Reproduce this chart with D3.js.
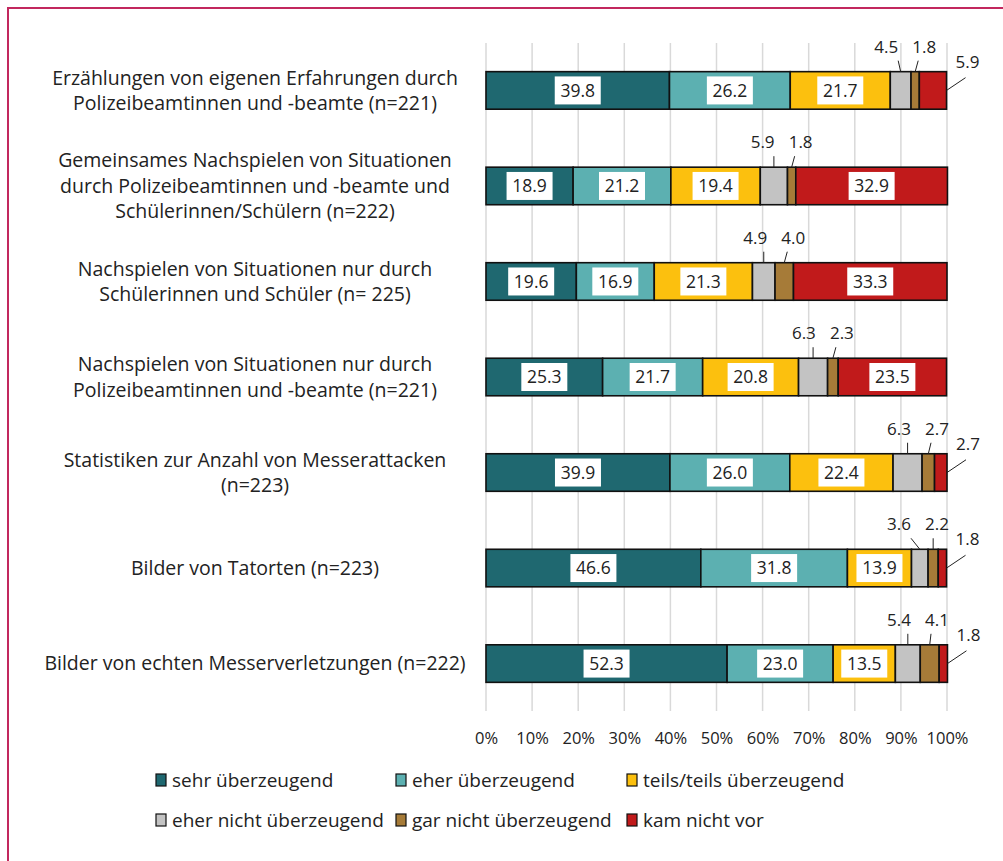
<!DOCTYPE html>
<html>
<head>
<meta charset="utf-8">
<script src="https://cdn.jsdelivr.net/npm/d3@7"></script>
<style>
  body { margin: 0; background: #fff; }
  svg { display: block; }
</style>
</head>
<body>
<div id="chart"></div>
<script>
// data
const categories = [
  ["Erzählungen von eigenen Erfahrungen durch", "Polizeibeamtinnen und -beamte (n=221)"],
  ["Gemeinsames Nachspielen von Situationen", "durch Polizeibeamtinnen und -beamte und", "Schülerinnen/Schülern (n=222)"],
  ["Nachspielen von Situationen nur durch", "Schülerinnen und Schüler (n= 225)"],
  ["Nachspielen von Situationen nur durch", "Polizeibeamtinnen und -beamte (n=221)"],
  ["Statistiken zur Anzahl von Messerattacken", "(n=223)"],
  ["Bilder von Tatorten (n=223)"],
  ["Bilder von echten Messerverletzungen (n=222)"]
];
const seriesNames = ["sehr überzeugend", "eher überzeugend", "teils/teils überzeugend",
                     "eher nicht überzeugend", "gar nicht überzeugend", "kam nicht vor"];
const sehr      = [39.8, 18.9, 19.6, 25.3, 39.9, 46.6, 52.3];
const eher      = [26.2, 21.2, 16.9, 21.7, 26.0, 31.8, 23.0];
const teils     = [21.7, 19.4, 21.3, 20.8, 22.4, 13.9, 13.5];
const eherNicht = [4.5, 5.9, 4.9, 6.3, 6.3, 3.6, 5.4];
const garNicht  = [1.8, 1.8, 4.0, 2.3, 2.7, 2.2, 4.1];
const kamNicht  = [5.9, 32.9, 33.3, 23.5, 2.7, 1.8, 1.8];
const xTicks = [0, 10, 20, 30, 40, 50, 60, 70, 80, 90, 100];

const colors = ["#1f6870", "#5cb0b1", "#fcc00e", "#c3c3c3", "#a67b38", "#c11a1b"];
const series = [sehr, eher, teils, eherNicht, garNicht, kamNicht];

const W = 1003, H = 861;
const font = "'Open Sans', Lato, sans-serif";

const svg = d3.select("#chart").append("svg")
  .attr("width", W).attr("height", H);

// frame (only left/top edges fall inside the picture)
svg.append("rect")
  .attr("x", 8).attr("y", 8)
  .attr("width", W + 20).attr("height", H + 20)
  .attr("fill", "none")
  .attr("stroke", "#c2285e")
  .attr("stroke-width", 2);

const x = d3.scaleLinear().domain([0, 100]).range([486, 947]);
const y = d3.scaleBand()
  .domain(d3.range(categories.length))
  .range([43, 711])
  .paddingInner(0.607)
  .paddingOuter(0.3);

// gridlines
svg.append("g").selectAll("line")
  .data(xTicks)
  .join("line")
  .attr("x1", d => x(d)).attr("x2", d => x(d))
  .attr("y1", 43).attr("y2", 711)
  .attr("stroke", "#d9d9d9")
  .attr("stroke-width", 1.5);

// x axis
const xAxis = d3.axisBottom(x)
  .tickValues(xTicks)
  .tickSize(0)
  .tickPadding(21)
  .tickFormat(d => d + "%");
const gx = svg.append("g")
  .attr("transform", "translate(0,711)")
  .call(xAxis);
gx.select(".domain").remove();
gx.selectAll("text")
  .attr("font-family", font)
  .attr("font-size", 16.5)
  .attr("fill", "#222");

// category labels
const catG = svg.append("g");
categories.forEach((lines, i) => {
  const cy = y(i) + y.bandwidth() / 2;
  const lh = 25.5;
  const t = catG.append("text")
    .attr("x", 255)
    .attr("text-anchor", "middle")
    .attr("font-family", font)
    .attr("font-size", 19.5)
    .attr("fill", "#222");
  lines.forEach((ln, j) => {
    t.append("tspan")
      .attr("x", 255)
      .attr("y", cy + (j - (lines.length - 1) / 2) * lh)
      .attr("dy", "0.35em")
      .text(ln);
  });
});

// stacked segments
const rows = categories.map((c, i) => {
  let acc = 0;
  return series.map((s, k) => {
    const seg = { row: i, k: k, v: s[i], x0: acc, x1: acc + s[i] };
    acc += s[i];
    return seg;
  });
});
const segs = rows.flat();

svg.append("g").selectAll("rect")
  .data(segs)
  .join("rect")
  .attr("x", d => x(d.x0))
  .attr("y", d => y(d.row))
  .attr("width", d => x(d.x1) - x(d.x0))
  .attr("height", y.bandwidth())
  .attr("fill", d => colors[d.k])
  .attr("stroke", "#111")
  .attr("stroke-width", 1.6);

// in-bar labels with white boxes
const inside = segs.filter(d => d.v >= 10);
const lab = svg.append("g").selectAll("g")
  .data(inside)
  .join("g")
  .attr("transform", d => `translate(${x((d.x0 + d.x1) / 2)},${y(d.row) + y.bandwidth() / 2})`);
lab.append("rect")
  .attr("x", -23).attr("y", -14)
  .attr("width", 46).attr("height", 28)
  .attr("fill", "#fff");
lab.append("text")
  .attr("text-anchor", "middle")
  .attr("dy", "0.36em")
  .attr("font-family", font)
  .attr("font-size", 17.5)
  .attr("fill", "#222")
  .text(d => d.v.toFixed(1));

// callout labels for small segments
const call = svg.append("g");
function callText(tx, ty, v) {
  call.append("text")
    .attr("x", tx).attr("y", ty)
    .attr("text-anchor", "middle")
    .attr("dy", "0.36em")
    .attr("font-family", font)
    .attr("font-size", 17)
    .attr("fill", "#222")
    .text(v.toFixed(1));
}
function callLine(x1, y1, x2, y2) {
  call.append("line")
    .attr("x1", x1).attr("y1", y1).attr("x2", x2).attr("y2", y2)
    .attr("stroke", "#222").attr("stroke-width", 1);
}
rows.forEach(r => {
  const top = y(r[0].row);
  const mid = top + y.bandwidth() / 2;
  const grey = r[3], brown = r[4], red = r[5];
  const gc = x((grey.x0 + grey.x1) / 2);
  const bc = x((brown.x0 + brown.x1) / 2);
  const ly = top - 25;
  const bx = Math.min(bc + 9, 937);
  const gxl = Math.min(gc - 4, bx - 38);
  callText(gxl, ly, grey.v);
  callLine(gc, top, Math.min(gxl + 12, gc), top - 11);
  callText(bx, ly, brown.v);
  callLine(bc, top, Math.max(bx - 6, bc), top - 11);
  if (red.v < 10) {
    const rx = x(red.x1);
    callText(rx + 21, top - 10, red.v);
    callLine(rx, mid, rx + 19, top + 6);
  }
});

// legend
const legend = svg.append("g");
const legendCols = [156, 396, 627];
const legendRows = [780, 820];
seriesNames.forEach((n, k) => {
  const lx = legendCols[k % 3], ly = legendRows[Math.floor(k / 3)];
  legend.append("rect")
    .attr("x", lx).attr("y", ly - 6)
    .attr("width", 10).attr("height", 12)
    .attr("fill", colors[k])
    .attr("stroke", "#111").attr("stroke-width", 1.2);
  legend.append("text")
    .attr("x", lx + 16).attr("y", ly)
    .attr("dy", "0.35em")
    .attr("font-family", font)
    .attr("font-size", 19)
    .attr("fill", "#222")
    .text(n);
});
</script>
</body>
</html>
